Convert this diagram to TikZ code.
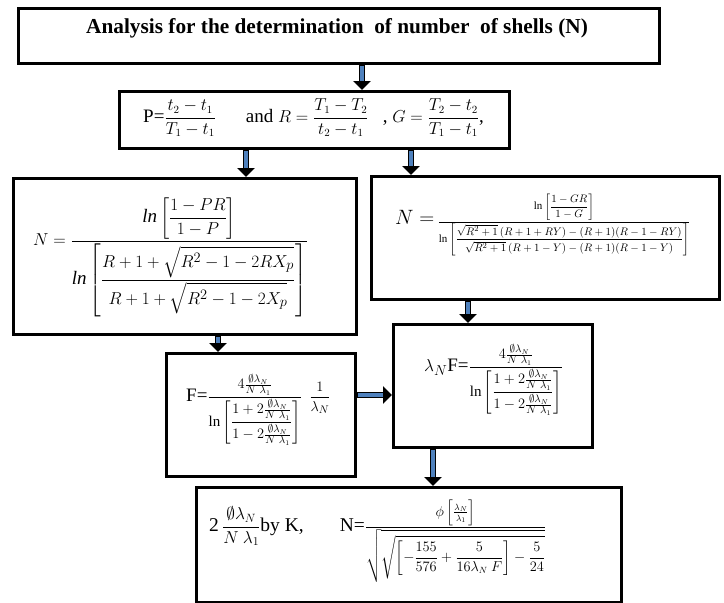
\documentclass[tikz,border=0pt]{standalone}
\usepackage{amsmath}
\usepackage{fontspec}
\setmainfont{Liberation Serif}
\usetikzlibrary{arrows.meta}
\definecolor{arrowblue}{HTML}{4F81BD}
\tikzset{
  boxnode/.style={draw=black, line width=2.6pt, fill=white, inner sep=0pt, anchor=north west},
  formula/.style={inner sep=0pt, anchor=west},
  blockarrow/.style={line width=6.5pt, draw=black, -{Triangle[length=9pt,width=17pt]},
    postaction={draw=arrowblue, line width=3.4pt, -, shorten >=9.5pt, shorten <=1.6pt}}
}
\newcommand{\fsz}[1]{\fontsize{#1}{#1}\selectfont}
\begin{document}
\begin{tikzpicture}[x=1pt,y=-1pt]
\useasboundingbox (0,0) rectangle (724,603);
% boxes
\node[boxnode, minimum width=641pt, minimum height=55pt] (title) at (17,7) {};
\node[boxnode, minimum width=390pt, minimum height=57pt] (defs) at (118,90) {};
\node[boxnode, minimum width=343pt, minimum height=156pt] (nleft) at (12,177) {};
\node[boxnode, minimum width=348pt, minimum height=123pt] (nright) at (370,175) {};
\node[boxnode, minimum width=189pt, minimum height=123pt] (fbox) at (165,352) {};
\node[boxnode, minimum width=199pt, minimum height=123pt] (lfbox) at (392,323) {};
\node[boxnode, minimum width=425pt, minimum height=115pt] (kbox) at (195,486) {};
% texts
\node[inner sep=0pt] (titletext) at (337,28) {\fsz{21.3}\bfseries Analysis for the determination\ \ of number\ \ of shells (N)};
\node[formula] (defstext) at (143,118) {\fsz{19}P=\mbox{\fsz{16}$\dfrac{t_2-t_1}{T_1-t_1}$}\hspace{30pt}and $R={}$\mbox{\fsz{16}$\dfrac{T_1-T_2}{t_2-t_1}$}\ \ \ , $G={}$\mbox{\fsz{16}$\dfrac{T_2-t_2}{T_1-t_1}$},};
\node[formula] (nlefttext) at (33,257) {\fsz{19}$\displaystyle N=\frac{\mathit{ln}\left[\dfrac{1-PR}{1-P}\right]}{\mathit{ln}\left[\dfrac{R+1+\sqrt{R^2-1-2RX_p}}{R+1+\sqrt{R^2-1-2X_p}}\right]}$};
\node[formula] (nrighttext) at (395,225) {\fsz{20}$N=$\,\mbox{\fsz{11}$\displaystyle\frac{\mathrm{ln}\left[\dfrac{1-GR}{1-G}\right]}{\mathrm{ln}\left[\dfrac{\sqrt{R^2+1}\,(R+1+RY)-(R+1)(R-1-RY)}{\sqrt{R^2+1}\,(R+1-Y)-(R+1)(R-1-Y)}\right]}$}};
\node[formula] (ftext) at (186,410) {\fsz{19}F=\mbox{\fsz{15}$\displaystyle\frac{4\tfrac{\emptyset\lambda_N}{N\ \lambda_1}}{\mathrm{ln}\left[\dfrac{1+2\tfrac{\emptyset\lambda_N}{N\ \lambda_1}}{1-2\tfrac{\emptyset\lambda_N}{N\ \lambda_1}}\right]}\ \ \frac{1}{\lambda_N}$}};
\node[formula] (lftext) at (424,380) {\fsz{19}$\lambda_N$F=\mbox{\fsz{15}$\displaystyle\frac{4\tfrac{\emptyset\lambda_N}{N\ \lambda_1}}{\mathrm{ln}\left[\dfrac{1+2\tfrac{\emptyset\lambda_N}{N\ \lambda_1}}{1-2\tfrac{\emptyset\lambda_N}{N\ \lambda_1}}\right]}$}};
\node[formula] (ktext) at (209,541) {\fsz{19.5}2\,\mbox{\fsz{17}$\dfrac{\emptyset\lambda_N}{N\ \lambda_1}$}by K,\hspace{36pt}N=\mbox{\fsz{13.5}$\displaystyle\frac{\phi\left[\tfrac{\lambda_N}{\lambda_1}\right]}{\sqrt{\sqrt{\left[-\dfrac{155}{576}+\dfrac{5}{16\lambda_N\ F}\right]-\dfrac{5}{24}}}}$}};
% arrows
\draw[blockarrow] (title.south -| 362,0) -- (defs.north -| 362,0);
\draw[blockarrow] (defs.south -| 246,0) -- (nleft.north -| 246,0);
\draw[blockarrow] (defs.south -| 411,0) -- (nright.north -| 411,0);
\draw[blockarrow] (nleft.south -| 218,0) -- (fbox.north -| 218,0);
\draw[blockarrow] (nright.south -| 468,0) -- (lfbox.north -| 468,0);
\draw[blockarrow] (fbox.east |- 0,395) -- (lfbox.west |- 0,395);
\draw[blockarrow] (lfbox.south -| 433,0) -- (kbox.north -| 433,0);
\end{tikzpicture}
\end{document}
